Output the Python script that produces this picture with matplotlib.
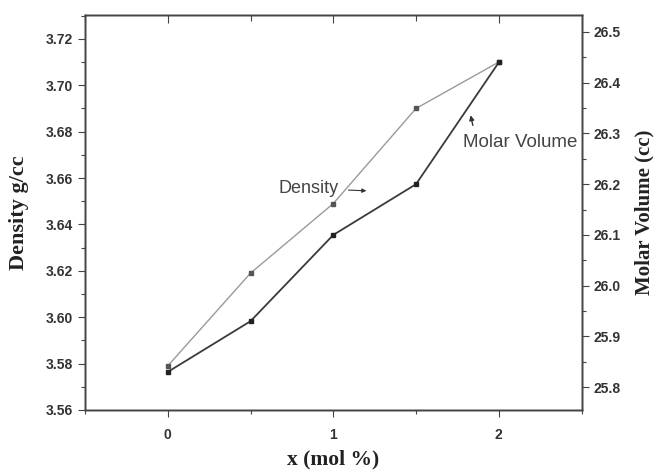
import matplotlib
matplotlib.use('Agg')
import matplotlib.pyplot as plt
from matplotlib.ticker import MultipleLocator

# data
x = [0, 0.5, 1, 1.5, 2]
density = [3.579, 3.619, 3.649, 3.690, 3.710]
molar_volume = [25.83, 25.93, 26.10, 26.20, 26.44]

fig = plt.figure(figsize=(6.55, 4.73), dpi=100)
ax = fig.add_axes([0.1298, 0.1332, 0.758, 0.8351])
ax2 = ax.twinx()
ax3 = ax.twiny()  # top axis with inward ticks only

ax.plot(x, density, color='#9a9a9a', lw=1.0, marker='s', ms=3.5,
        mfc='#555555', mec='#555555', zorder=3)
ax2.plot(x, molar_volume, color='#3a3a3a', lw=1.3, marker='s', ms=3.5,
         mfc='#222222', mec='#222222', zorder=3)

ax.set_xlim(-0.5, 2.5)
ax3.set_xlim(-0.5, 2.5)
ax.set_ylim(3.56, 3.7303)
ax2.set_ylim(25.755, 26.5335)

ax.xaxis.set_minor_locator(MultipleLocator(0.5))
ax3.xaxis.set_major_locator(MultipleLocator(1))
ax3.xaxis.set_minor_locator(MultipleLocator(0.5))
ax.yaxis.set_minor_locator(MultipleLocator(0.01))
ax2.yaxis.set_minor_locator(MultipleLocator(0.05))

tickfont = {'family': 'Liberation Sans', 'weight': 'bold', 'size': 10}
ax.set_xticks([0, 1, 2])
ax.set_xticklabels(['0', '1', '2'], fontdict=tickfont, color='#333333')
yt = [3.56 + 0.02 * i for i in range(9)]
ax.set_yticks(yt)
ax.set_yticklabels(['%.2f' % v for v in yt], fontdict=tickfont, color='#333333')
yt2 = [25.8 + 0.1 * i for i in range(8)]
ax2.set_yticks(yt2)
ax2.set_yticklabels(['%.1f' % v for v in yt2], fontdict=tickfont, color='#333333')
ax3.set_xticklabels([])

ax.tick_params(axis='both', which='major', length=5, width=0.8, color='#444444')
ax.tick_params(axis='both', which='minor', length=3, width=0.8, color='#444444')
ax.tick_params(axis='x', which='major', pad=8)
ax2.tick_params(which='major', length=5, width=0.8, color='#444444')
ax2.tick_params(which='minor', length=3, width=0.8, color='#444444')
ax3.tick_params(which='major', direction='in', length=6, width=0.8, color='#444444')
ax3.tick_params(which='minor', direction='in', length=4, width=0.8, color='#444444')

for a in (ax, ax2, ax3):
    for s in a.spines.values():
        s.set_color('#444444')
        s.set_linewidth(1.0)

ax.set_xlabel('x (mol %)', family='Liberation Serif', weight='bold', size=15.5,
              color='#222222', labelpad=5)
ax.set_ylabel('Density g/cc', family='Liberation Serif', weight='bold', size=16,
              color='#222222', labelpad=12)
ax2.set_ylabel('Molar Volume (cc)', family='Liberation Serif', weight='bold', size=15,
               color='#222222', labelpad=10)

ax.annotate('Density', xy=(1.2, 3.6545), xytext=(0.67, 3.6555),
            fontsize=13, color='#444444', family='Liberation Sans', va='center',
            arrowprops=dict(arrowstyle='-|>', color='#333333', lw=0.8,
                            mutation_scale=6, shrinkA=5, shrinkB=0))
ax2.annotate('Molar Volume', xy=(1.83, 26.336), xytext=(1.785, 26.283),
             fontsize=13.5, color='#444444', family='Liberation Sans', va='center',
             arrowprops=dict(arrowstyle='-|>', color='#333333', lw=1.0,
                             mutation_scale=7, shrinkA=4, shrinkB=0,
                             relpos=(0.1, 1.0)))

fig.savefig('out.png', dpi=100)
